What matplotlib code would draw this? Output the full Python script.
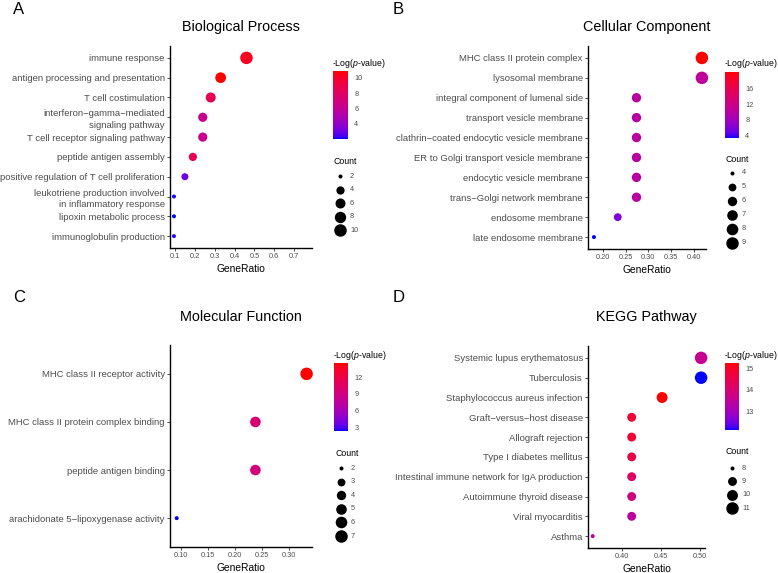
import matplotlib
matplotlib.use("Agg")
import matplotlib.pyplot as plt
import numpy as np
from matplotlib.colors import ListedColormap, Normalize
from matplotlib.cm import ScalarMappable

plt.rcParams["font.family"] = ["Liberation Sans", "DejaVu Sans"]
plt.rcParams["mathtext.fontset"] = "custom"
plt.rcParams["mathtext.rm"] = "Liberation Sans"
plt.rcParams["mathtext.it"] = "Liberation Sans:italic"

W, H = 778, 573

# ---- data (top row first) ----
bp_terms = [
    "immune response",
    "antigen processing and presentation",
    "T cell costimulation",
    "interferon\u2212gamma\u2212mediated\nsignaling pathway",
    "T cell receptor signaling pathway",
    "peptide antigen assembly",
    "positive regulation of T cell proliferation",
    "leukotriene production involved\nin inflammatory response",
    "lipoxin metabolic process",
    "immunoglobulin production",
]
bp_ratio = [0.46, 0.33, 0.28, 0.24, 0.24, 0.19, 0.15, 0.095, 0.095, 0.095]
bp_count = [10, 7, 6, 5, 5, 4, 3, 2, 2, 2]
bp_logp = [10.3, 10.9, 8.6, 6.2, 6.3, 8.7, 3.0, 2.1, 2.0, 2.2]

cc_terms = [
    "MHC class II protein complex",
    "lysosomal membrane",
    "integral component of lumenal side",
    "transport vesicle membrane",
    "clathrin\u2212coated endocytic vesicle membrane",
    "ER to Golgi transport vesicle membrane",
    "endocytic vesicle membrane",
    "trans\u2212Golgi network membrane",
    "endosome membrane",
    "late endosome membrane",
]
cc_ratio = [0.417, 0.417, 0.274, 0.274, 0.274, 0.274, 0.274, 0.274, 0.233, 0.181]
cc_count = [9, 9, 6, 6, 6, 6, 6, 6, 5, 4]
cc_logp = [20.4, 10.6, 10.0, 10.0, 10.0, 10.0, 10.0, 10.0, 6.0, 3.3]

mf_terms = [
    "MHC class II receptor activity",
    "MHC class II protein complex binding",
    "peptide antigen binding",
    "arachidonate 5\u2212lipoxygenase activity",
]
mf_ratio = [0.333, 0.238, 0.238, 0.092]
mf_count = [7, 5, 5, 2]
mf_logp = [14.5, 9.6, 9.2, 2.4]

kegg_terms = [
    "Systemic lupus erythematosus",
    "Tuberculosis",
    "Staphylococcus aureus infection",
    "Graft\u2212versus\u2212host disease",
    "Allograft rejection",
    "Type I diabetes mellitus",
    "Intestinal immune network for IgA production",
    "Autoimmune thyroid disease",
    "Viral myocarditis",
    "Asthma",
]
kegg_ratio = [0.502, 0.502, 0.452, 0.413, 0.413, 0.413, 0.413, 0.413, 0.413, 0.363]
kegg_count = [11, 11, 10, 9, 9, 9, 9, 9, 9, 8]
kegg_logp = [13.6, 12.11, 15.26, 14.8, 14.8, 14.6, 14.2, 13.8, 13.4, 13.3]

bp_xticks = [0.1, 0.2, 0.3, 0.4, 0.5, 0.6, 0.7]
bp_xlabels = ["0.1", "0.2", "0.3", "0.4", "0.5", "0.6", "0.7"]
cc_xticks = [0.20, 0.25, 0.30, 0.35, 0.40]
cc_xlabels = ["0.20", "0.25", "0.30", "0.35", "0.40"]
mf_xticks = [0.10, 0.15, 0.20, 0.25, 0.30]
mf_xlabels = ["0.10", "0.15", "0.20", "0.25", "0.30"]
kegg_xticks = [0.40, 0.45, 0.50]
kegg_xlabels = ["0.40", "0.45", "0.50"]

bp_cticks = [4, 6, 8, 10]
cc_cticks = [4, 8, 12, 16]
mf_cticks = [3, 6, 9, 12]
kegg_cticks = [13, 14, 15]

bp_sticks = [2, 4, 6, 8, 10]
cc_sticks = [4, 5, 6, 7, 8, 9]
mf_sticks = [2, 3, 4, 5, 6, 7]
kegg_sticks = [8, 9, 10, 11]

M = np.array([[0.4124, 0.3576, 0.1805],
              [0.2126, 0.7152, 0.0722],
              [0.0193, 0.1192, 0.9505]])
WHITE = np.array([0.95047, 1.0, 1.08883])


def to_lab(rgb):
    rgb = np.asarray(rgb, float)
    lin = np.where(rgb > 0.04045, ((rgb + 0.055) / 1.055) ** 2.4, rgb / 12.92)
    xyz = M @ lin / WHITE
    f = np.where(xyz > 0.008856, np.cbrt(xyz), 7.787 * xyz + 16 / 116)
    return np.array([116 * f[1] - 16, 500 * (f[0] - f[1]), 200 * (f[1] - f[2])])


def from_lab(lab):
    L, a, b = lab
    fy_ = (L + 16) / 116
    f = np.array([fy_ + a / 500, fy_, fy_ - b / 200])
    xyz = np.where(f ** 3 > 0.008856, f ** 3, (f - 16 / 116) / 7.787) * WHITE
    lin = np.clip(np.linalg.solve(M, xyz), 0, 1)
    rgb = np.where(lin > 0.0031308, 1.055 * lin ** (1 / 2.4) - 0.055, 12.92 * lin)
    return np.clip(rgb, 0, 1)


# blue -> red in Lab space, like ggplot's default gradient
l1, l2 = to_lab([0, 0, 1]), to_lab([1, 0, 0])
cmap = ListedColormap([from_lab(l1 + (l2 - l1) * t) for t in np.linspace(0, 1, 256)])

fig = plt.figure(figsize=(W / 100, H / 100), dpi=100)


def fx(px):
    return px / W


def fy(py):
    return 1 - py / H


def diam(c, cmin, cmax):
    t = (c - cmin) / (cmax - cmin)
    d_px = 4.0 + 8.5 * np.sqrt(t)
    return (d_px * 0.72) ** 2


def panel(letter, title, terms, ratio, count, logp, box, xlim, xticks, xlabels,
          cticks, sticks, leg):
    left, top, right, bottom = box
    ax = fig.add_axes([fx(left), fy(bottom), fx(right - left), (bottom - top) / H])
    n = len(terms)
    y = np.arange(n)[::-1]
    ratio = np.array(ratio)
    count = np.array(count, float)
    logp = np.array(logp)
    cmin, cmax = count.min(), count.max()
    norm = Normalize(vmin=logp.min(), vmax=logp.max())
    ax.scatter(ratio, y, s=diam(count, cmin, cmax), c=logp, cmap=cmap,
               norm=norm, linewidths=0, zorder=3, clip_on=False)
    ax.set_xlim(*xlim)
    ax.set_ylim(-0.6, n - 0.4)
    ax.set_yticks(y)
    ax.set_yticklabels(terms, fontsize=6.8, color="#4D4D4D",
                       ha="right", multialignment="right", linespacing=1.35)
    ax.set_xticks(xticks)
    ax.set_xticklabels(xlabels, fontsize=5.3, color="#4D4D4D")
    ax.set_xlabel("GeneRatio", fontsize=7.4, labelpad=3)
    for s in ["top", "right"]:
        ax.spines[s].set_visible(False)
    for s in ["left", "bottom"]:
        ax.spines[s].set_linewidth(1.0)
    ax.tick_params(length=2.2, width=0.6, pad=1.5, color="#333333")

    # title and panel letter
    fig.text(fx((left + right) / 2), fy(title[1]), title[0], fontsize=10.4,
             ha="center", va="center")
    fig.text(fx(letter[1]), fy(letter[2]), letter[0], fontsize=12,
             ha="left", va="center")

    # colour bar
    cb_l, cb_t, cb_r, cb_b, ttl_y, cnt_y, dot_y0, dot_dy = leg
    fig.text(fx(cb_l - 1), fy(ttl_y), "-Log($\\mathit{p}$-value)", fontsize=6.3,
             ha="left", va="center")
    cax = fig.add_axes([fx(cb_l), fy(cb_b), fx(cb_r - cb_l), (cb_b - cb_t) / H])
    cb = fig.colorbar(ScalarMappable(norm=norm, cmap=cmap), cax=cax)
    cb.outline.set_visible(False)
    cb.set_ticks(cticks)
    cb.ax.tick_params(length=2.5, width=0.6, color="white", labelsize=5.3,
                      labelcolor="#4D4D4D", pad=2)
    cb.ax.tick_params(which="minor", length=0)

    # size legend
    fig.text(fx(cb_l + 1), fy(cnt_y), "Count", fontsize=6.3, ha="left", va="center")
    lax = fig.add_axes([0, 0, 1, 1])
    lax.set_xlim(0, W)
    lax.set_ylim(H, 0)
    lax.axis("off")
    for i, v in enumerate(sticks):
        yy = dot_y0 + i * dot_dy
        lax.scatter([cb_l + 7], [yy], s=diam(v, cmin, cmax), color="black",
                    linewidths=0)
        lax.text(cb_l + 17, yy, str(v), fontsize=5.3, color="#4D4D4D",
                 ha="left", va="center")
    return ax


panel(("A", 13, 10), ("Biological Process", 27), bp_terms, bp_ratio, bp_count, bp_logp,
      (170, 46, 312, 248), (0.075, 0.79), bp_xticks, bp_xlabels, bp_cticks, bp_sticks,
      (333, 71, 348, 139, 63, 162, 176, 13.6))
panel(("B", 393, 10), ("Cellular Component", 27), cc_terms, cc_ratio, cc_count, cc_logp,
      (588, 46, 706, 249), (0.168, 0.426), cc_xticks, cc_xlabels, cc_cticks, cc_sticks,
      (725, 72, 739, 138, 63, 159, 173, 13.9))
panel(("C", 13, 297), ("Molecular Function", 317), mf_terms, mf_ratio, mf_count, mf_logp,
      (170, 345, 312, 547), (0.0796, 0.343), mf_xticks, mf_xlabels, mf_cticks, mf_sticks,
      (334, 363, 348, 431, 356, 453, 468, 13.6))
panel(("D", 393, 297), ("KEGG Pathway", 317), kegg_terms, kegg_ratio, kegg_count, kegg_logp,
      (588, 346, 705, 548), (0.357, 0.507), kegg_xticks, kegg_xlabels, kegg_cticks, kegg_sticks,
      (725, 363, 739, 430, 355, 452, 468, 13.4))

fig.savefig("out.png", dpi=100)
